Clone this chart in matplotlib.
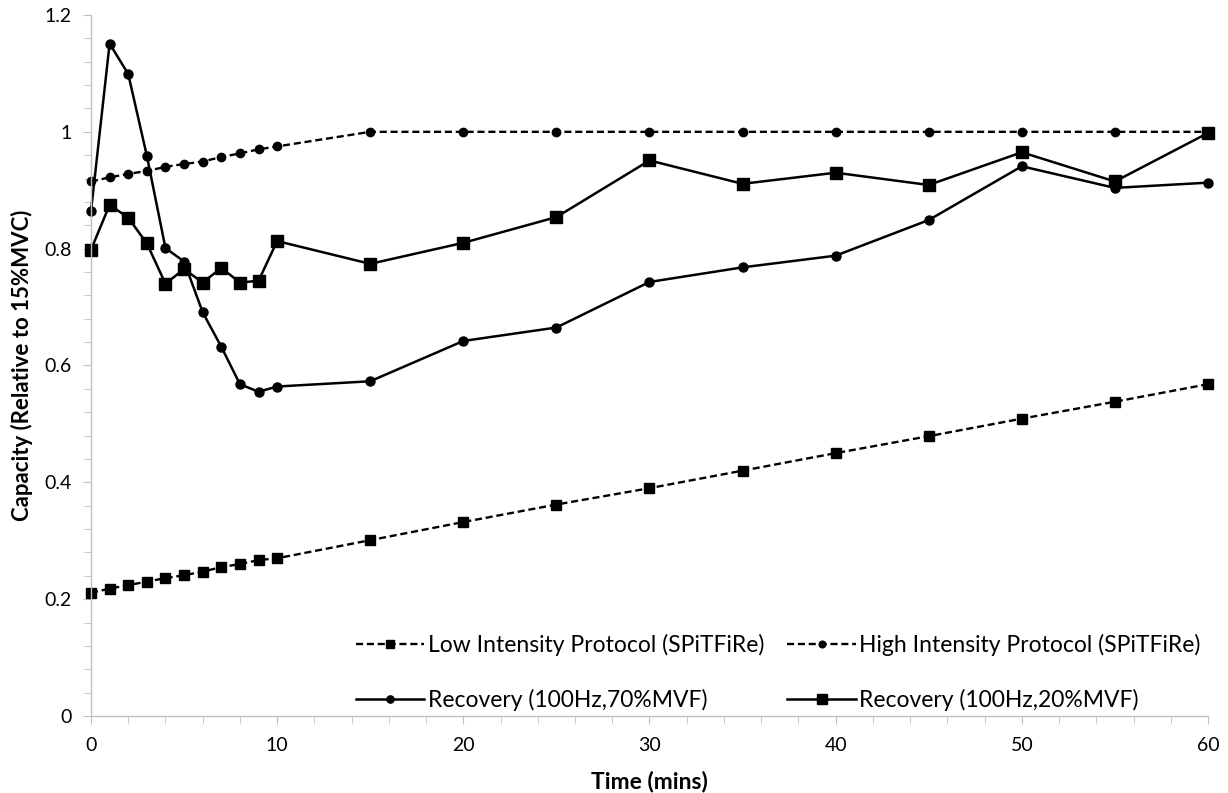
import numpy as np
import matplotlib
matplotlib.use("Agg")
import matplotlib.pyplot as plt
from matplotlib.ticker import MultipleLocator

plt.rcParams['font.family'] = ['Lato', 'DejaVu Sans']

time = [0, 1, 2, 3, 4, 5, 6, 7, 8, 9, 10, 15, 20, 25, 30, 35, 40, 45, 50, 55, 60]

low_intensity = [0.211, 0.218, 0.224, 0.230, 0.236, 0.241, 0.247, 0.255, 0.260, 0.267, 0.270,
                 0.301, 0.332, 0.362, 0.390, 0.420, 0.450, 0.479, 0.509, 0.538, 0.568]
high_intensity = [0.915, 0.922, 0.928, 0.933, 0.940, 0.945, 0.949, 0.957, 0.963, 0.970, 0.975,
                  1.0, 1.0, 1.0, 1.0, 1.0, 1.0, 1.0, 1.0, 1.0, 1.0]
recovery_70 = [0.864, 1.151, 1.099, 0.959, 0.801, 0.778, 0.691, 0.632, 0.568, 0.555, 0.564,
               0.573, 0.642, 0.665, 0.743, 0.768, 0.788, 0.849, 0.941, 0.904, 0.913]
recovery_20 = [0.798, 0.875, 0.853, 0.809, 0.740, 0.765, 0.742, 0.767, 0.742, 0.745, 0.813,
               0.774, 0.810, 0.854, 0.951, 0.911, 0.930, 0.909, 0.965, 0.915, 0.998]

labels = ["Low Intensity Protocol (SPiTFiRe)", "High Intensity Protocol (SPiTFiRe)",
          "Recovery (100Hz,70%MVF)", "Recovery (100Hz,20%MVF)"]

fig = plt.figure(figsize=(12.28, 7.93), dpi=100)
ax = fig.add_axes([0.0741, 0.0971, 0.9096, 0.884])

dash = (0, (3, 1.6))
l_low, = ax.plot(time, low_intensity, color='black', lw=1.7, ls=dash, marker='s', ms=7.5, clip_on=False)
l_high, = ax.plot(time, high_intensity, color='black', lw=1.7, ls=dash, marker='o', ms=6, clip_on=False)
l_r70, = ax.plot(time, recovery_70, color='black', lw=1.8, marker='o', ms=6.5, clip_on=False)
l_r20, = ax.plot(time, recovery_20, color='black', lw=1.8, marker='s', ms=8.5, clip_on=False)

ax.set_xlim(0, 60)
ax.set_ylim(0, 1.2)
ax.xaxis.set_major_locator(MultipleLocator(10))
ax.xaxis.set_minor_locator(MultipleLocator(2))
ax.yaxis.set_minor_locator(MultipleLocator(0.04))
ax.set_yticks([0, 0.2, 0.4, 0.6, 0.8, 1.0, 1.2])
ax.set_yticklabels(['0', '0.2', '0.4', '0.6', '0.8', '1', '1.2'])

for s in ['top', 'right']:
    ax.spines[s].set_visible(False)
for s in ['left', 'bottom']:
    ax.spines[s].set_color('#bfbfbf')
    ax.spines[s].set_linewidth(1)
ax.tick_params(which='both', color='#bfbfbf', labelsize=14, direction='out')
ax.tick_params(which='major', length=6)
ax.tick_params(which='minor', length=5)
ax.tick_params(axis='x', pad=9)
ax.tick_params(axis='y', pad=8)

ax.set_xlabel("Time (mins)", fontsize=16.5, fontweight='bold', labelpad=12)
ax.set_ylabel("Capacity (Relative to 15%MVC)", fontsize=16, fontweight='bold', labelpad=8)

ax.legend([l_low, l_r70, l_high, l_r20],
          [labels[0], labels[2], labels[1], labels[3]],
          ncol=2, loc='lower right', bbox_to_anchor=(1.012, -0.023),
          frameon=False, fontsize=16.5, numpoints=1, handlelength=3.0,
          handletextpad=0.15, columnspacing=1.0, labelspacing=1.45, markerscale=0.8)

fig.savefig("out.png", dpi=100)
